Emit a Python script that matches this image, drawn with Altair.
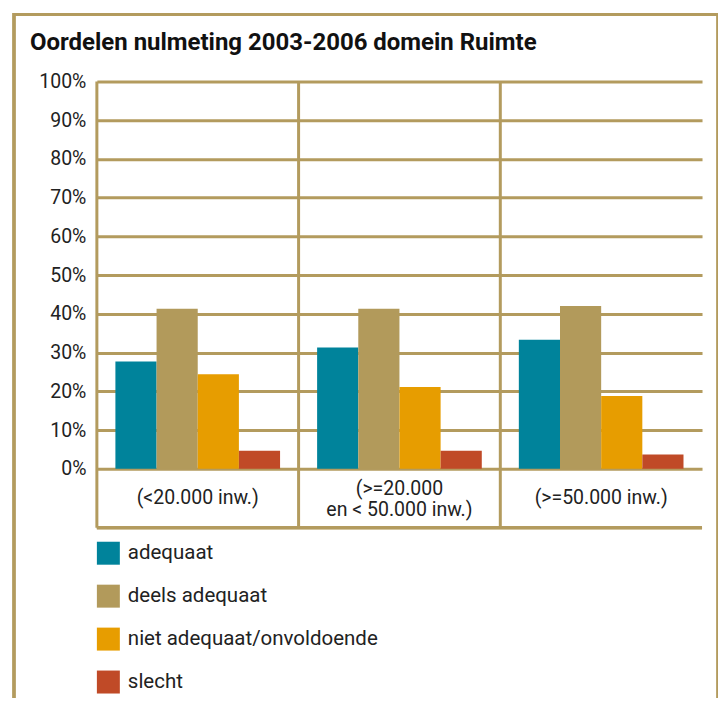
import altair as alt
import pandas as pd

categories = ["(<20.000 inw.)", "(>=20.000|en < 50.000 inw.)", "(>=50.000 inw.)"]
series = ["adequaat", "deels adequaat", "niet adequaat/onvoldoende", "slecht"]
adequaat = [27.7, 31.3, 33.3]
deels_adequaat = [41.3, 41.3, 42.0]
niet_adequaat = [24.4, 21.1, 18.8]
slecht = [4.7, 4.7, 3.7]
colors = ["#00839B", "#B29A5B", "#E79D00", "#C04A27"]
y_ticks = [0, 10, 20, 30, 40, 50, 60, 70, 80, 90, 100]
title_text = "Oordelen nulmeting 2003-2006 domein Ruimte"

GOLD = "#B39B5E"
W, H = 606, 388
ROW = 59
FONT = "Roboto"

values = [adequaat, deels_adequaat, niet_adequaat, slecht]
rows = []
for s, vals in zip(series, values):
    for c, v in zip(categories, vals):
        rows.append({"cat": c, "series": s, "value": v})
df = pd.DataFrame(rows)
cat_df = pd.DataFrame({"cat": categories})

x_scale = alt.Scale(paddingInner=0, paddingOuter=0)
x_axis = alt.Axis(title=None, labelAngle=0, ticks=False, domain=False, grid=False,
                  labelPadding={"condition": {"test": "indexof(datum.value, '|') >= 0", "value": 20},
                                "value": 29},
                  labelFontSize=19.5, labelFont=FONT, labelColor="#222222",
                  labelBaseline="middle", labelLineHeight=21, labelOverlap=False,
                  labelExpr="split(datum.label, '|')")

bars = alt.Chart(df).mark_bar().encode(
    x=alt.X("cat:N", sort=categories, scale=x_scale, axis=x_axis),
    xOffset=alt.XOffset("series:N", sort=series,
                        scale=alt.Scale(paddingInner=0, paddingOuter=0.45)),
    y=alt.Y("value:Q", scale=alt.Scale(domain=[0, 100], nice=False),
            axis=alt.Axis(title=None, values=y_ticks, labelExpr="datum.value + '%'",
                          ticks=False, domain=False, grid=True, gridColor=GOLD, gridWidth=3,
                          gridOpacity=1, labelPadding=11, labelFontSize=19.5, labelFont=FONT,
                          labelColor="#222222")),
    color=alt.Color("series:N", sort=series, scale=alt.Scale(domain=series, range=colors),
                    legend=alt.Legend(title=None, orient="none", legendX=0, legendY=H + 73,
                                      direction="vertical", symbolType="square", symbolSize=529,
                                      symbolStrokeWidth=0, symbolOpacity=1, labelFontSize=20.5,
                                      labelFont=FONT, labelColor="#222222", rowPadding=20,
                                      labelOffset=8, labelLimit=400)),
)

dividers = alt.Chart(cat_df).mark_rule(color=GOLD, strokeWidth=3).encode(
    x=alt.X("cat:N", sort=categories, bandPosition=0, scale=x_scale, axis=x_axis),
    y=alt.value(0),
    y2=alt.value(H + ROW),
)

bottom = alt.Chart(cat_df).mark_rule(color=GOLD, strokeWidth=3).encode(
    x=alt.value(0), x2=alt.value(W), y=alt.value(H + ROW)
)

frame = alt.Chart(cat_df).mark_rect(filled=False, stroke=GOLD, strokeWidth=3).encode(
    x=alt.value(-83), x2=alt.value(622), y=alt.value(-67), y2=alt.value(700)
)

chart = alt.layer(frame, bars, dividers, bottom).properties(
    width=W, height=H,
    title=alt.Title(title_text, anchor="start", frame="group", dx=-67, dy=42, offset=0,
                    fontSize=24, font=FONT, fontWeight="bold", color="#111111"),
    padding={"left": 89, "top": 73, "right": 16, "bottom": 229},
    autosize=alt.AutoSizeParams(type="none"),
).configure_view(stroke=None)

chart.save("out.html", embed_options={"renderer": "svg", "actions": False})
